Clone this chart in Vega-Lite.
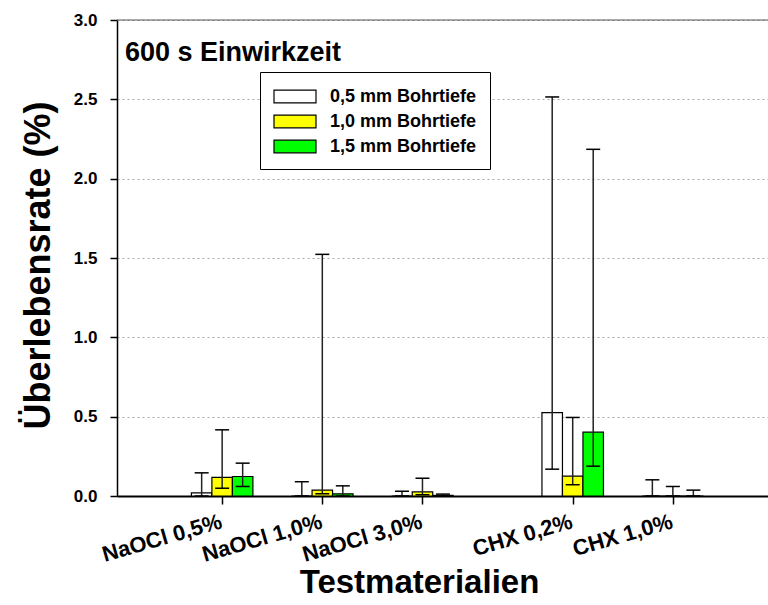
{
  "$schema": "https://vega.github.io/schema/vega-lite/v6.json",
  "autosize": "none",
  "width": 651,
  "height": 476,
  "padding": {"left": 117, "top": 20, "right": 0, "bottom": 109},
  "background": "white",
  "config": {
    "font": "Liberation Sans",
    "view": {"stroke": null},
    "axis": {"labelFont": "Liberation Sans", "titleFont": "Liberation Sans", "labelFontWeight": "bold", "titleFontWeight": "bold", "labelColor": "black", "titleColor": "black", "domainColor": "black", "tickColor": "black"},
    "legend": {"labelFont": "Liberation Sans", "labelFontWeight": "bold", "labelFontSize": 18, "labelColor": "black"}
  },
  "title": {"text": "600 s Einwirkzeit", "anchor": "start", "frame": "group", "offset": 0, "baseline": "alphabetic", "dx": 8, "dy": 77, "fontSize": 27, "fontWeight": "bold", "font": "Liberation Sans", "color": "black"},
  "data": {"values": [
    {"gruppe": "NaOCl 0,5%", "pos": 1, "tiefe": "0,5 mm Bohrtiefe", "wert": 0.02, "unten": 0, "oben": 0.146},
    {"gruppe": "NaOCl 0,5%", "pos": 1, "tiefe": "1,0 mm Bohrtiefe", "wert": 0.118, "unten": 0.049, "oben": 0.417},
    {"gruppe": "NaOCl 0,5%", "pos": 1, "tiefe": "1,5 mm Bohrtiefe", "wert": 0.123, "unten": 0.06, "oben": 0.207},
    {"gruppe": "NaOCl 1,0%", "pos": 2, "tiefe": "0,5 mm Bohrtiefe", "wert": 0, "unten": 0, "oben": 0.09},
    {"gruppe": "NaOCl 1,0%", "pos": 2, "tiefe": "1,0 mm Bohrtiefe", "wert": 0.037, "unten": 0.014, "oben": 1.523},
    {"gruppe": "NaOCl 1,0%", "pos": 2, "tiefe": "1,5 mm Bohrtiefe", "wert": 0.014, "unten": 0, "oben": 0.064},
    {"gruppe": "NaOCl 3,0%", "pos": 3, "tiefe": "0,5 mm Bohrtiefe", "wert": 0, "unten": 0, "oben": 0.03},
    {"gruppe": "NaOCl 3,0%", "pos": 3, "tiefe": "1,0 mm Bohrtiefe", "wert": 0.026, "unten": 0.008, "oben": 0.112},
    {"gruppe": "NaOCl 3,0%", "pos": 3, "tiefe": "1,5 mm Bohrtiefe", "wert": 0.004, "unten": 0, "oben": 0.012},
    {"gruppe": "CHX 0,2%", "pos": 4.5, "tiefe": "0,5 mm Bohrtiefe", "wert": 0.526, "unten": 0.169, "oben": 2.515},
    {"gruppe": "CHX 0,2%", "pos": 4.5, "tiefe": "1,0 mm Bohrtiefe", "wert": 0.125, "unten": 0.071, "oben": 0.495},
    {"gruppe": "CHX 0,2%", "pos": 4.5, "tiefe": "1,5 mm Bohrtiefe", "wert": 0.402, "unten": 0.188, "oben": 2.185},
    {"gruppe": "CHX 1,0%", "pos": 5.5, "tiefe": "0,5 mm Bohrtiefe", "wert": 0, "unten": 0, "oben": 0.102},
    {"gruppe": "CHX 1,0%", "pos": 5.5, "tiefe": "1,0 mm Bohrtiefe", "wert": 0, "unten": 0, "oben": 0.06},
    {"gruppe": "CHX 1,0%", "pos": 5.5, "tiefe": "1,5 mm Bohrtiefe", "wert": 0, "unten": 0, "oben": 0.037}
  ]},
  "encoding": {
    "x": {"field": "pos", "type": "quantitative",
      "scale": {"domain": [0, 6.4], "nice": false, "zero": false},
      "axis": {"title": "Testmaterialien", "titleFontSize": 33, "titleX": 302, "titleY": 96, "titleBaseline": "alphabetic", "titleAnchor": "middle", "titleAlign": "center",
        "values": [1, 2, 3, 4.5, 5.5],
        "labelExpr": "{'1': 'NaOCl 0,5%', '2': 'NaOCl 1,0%', '3': 'NaOCl 3,0%', '4.5': 'CHX 0,2%', '5.5': 'CHX 1,0%'}[datum.value]",
        "labelAngle": -16, "labelAlign": "right", "labelBaseline": "top", "labelFontSize": 22, "labelPadding": 7, "labelOffset": -4, "labelOverlap": false, "labelFlush": false, "labelBound": false,
        "grid": false, "tickSize": 8, "tickWidth": 1.5, "domainWidth": 1.8}}
  },
  "layer": [
    {"transform": [{"filter": "datum.tiefe == '0,5 mm Bohrtiefe'"}],
     "layer": [
       {"mark": {"type": "bar", "width": 20.5, "xOffset": -20.5, "stroke": "black", "strokeWidth": 1.2},
        "encoding": {
          "y": {"field": "wert", "type": "quantitative", "title": "Überlebensrate (%)", "scale": {"domain": [0, 3], "nice": false},
            "axis": {"values": [0, 0.5, 1, 1.5, 2, 2.5, 3], "format": ".1f", "labelFontSize": 17, "tickSize": 7, "tickWidth": 1.5, "labelPadding": 13, "domainWidth": 1.5, "grid": true, "gridDash": [2, 3], "gridColor": "#a8a8a8", "gridWidth": 1, "titleFontSize": 36, "titlePadding": 16, "titleY": 245}},
          "color": {"field": "tiefe", "type": "nominal",
            "scale": {"domain": ["0,5 mm Bohrtiefe", "1,0 mm Bohrtiefe", "1,5 mm Bohrtiefe"], "range": ["#ffffff", "#ffff00", "#00ff00"]},
            "legend": {"title": null, "orient": "none", "legendX": 143, "legendY": 52, "strokeColor": "black", "fillColor": "white", "padding": 13, "rowPadding": 4, "labelOffset": 34,
              "symbolType": "M-1,-0.6H3V0.6H-1Z", "symbolSize": 441, "symbolStrokeColor": "black", "symbolStrokeWidth": 1.2, "symbolOpacity": 1}}}},
       {"mark": {"type": "rule", "xOffset": -20.5, "color": "#222222", "strokeWidth": 1.5}, "encoding": {"y": {"field": "unten", "type": "quantitative", "title": "Überlebensrate (%)"}, "y2": {"field": "oben"}}},
       {"mark": {"type": "tick", "orient": "horizontal", "size": 14, "thickness": 1.5, "xOffset": -20.5, "color": "black", "opacity": 1}, "encoding": {"y": {"field": "oben", "type": "quantitative", "title": "Überlebensrate (%)"}}},
       {"mark": {"type": "tick", "orient": "horizontal", "size": 14, "thickness": 1.5, "xOffset": -20.5, "color": "black", "opacity": 1}, "encoding": {"y": {"field": "unten", "type": "quantitative", "title": "Überlebensrate (%)"}}}
     ]},
    {"transform": [{"filter": "datum.tiefe == '1,0 mm Bohrtiefe'"}],
     "layer": [
       {"mark": {"type": "bar", "width": 20.5, "xOffset": 0, "stroke": "black", "strokeWidth": 1.2}, "encoding": {"y": {"field": "wert", "type": "quantitative", "title": "Überlebensrate (%)"}, "color": {"field": "tiefe", "type": "nominal"}}},
       {"mark": {"type": "rule", "xOffset": 0, "color": "#222222", "strokeWidth": 1.5}, "encoding": {"y": {"field": "unten", "type": "quantitative", "title": "Überlebensrate (%)"}, "y2": {"field": "oben"}}},
       {"mark": {"type": "tick", "orient": "horizontal", "size": 14, "thickness": 1.5, "xOffset": 0, "color": "black", "opacity": 1}, "encoding": {"y": {"field": "oben", "type": "quantitative", "title": "Überlebensrate (%)"}}},
       {"mark": {"type": "tick", "orient": "horizontal", "size": 14, "thickness": 1.5, "xOffset": 0, "color": "black", "opacity": 1}, "encoding": {"y": {"field": "unten", "type": "quantitative", "title": "Überlebensrate (%)"}}}
     ]},
    {"transform": [{"filter": "datum.tiefe == '1,5 mm Bohrtiefe'"}],
     "layer": [
       {"mark": {"type": "bar", "width": 20.5, "xOffset": 20.5, "stroke": "black", "strokeWidth": 1.2}, "encoding": {"y": {"field": "wert", "type": "quantitative", "title": "Überlebensrate (%)"}, "color": {"field": "tiefe", "type": "nominal"}}},
       {"mark": {"type": "rule", "xOffset": 20.5, "color": "#222222", "strokeWidth": 1.5}, "encoding": {"y": {"field": "unten", "type": "quantitative", "title": "Überlebensrate (%)"}, "y2": {"field": "oben"}}},
       {"mark": {"type": "tick", "orient": "horizontal", "size": 14, "thickness": 1.5, "xOffset": 20.5, "color": "black", "opacity": 1}, "encoding": {"y": {"field": "oben", "type": "quantitative", "title": "Überlebensrate (%)"}}},
       {"mark": {"type": "tick", "orient": "horizontal", "size": 14, "thickness": 1.5, "xOffset": 20.5, "color": "black", "opacity": 1}, "encoding": {"y": {"field": "unten", "type": "quantitative", "title": "Überlebensrate (%)"}}}
     ]},
    {"data": {"values": [{"oben_rand": 3}]},
     "mark": {"type": "rule", "color": "#555555", "strokeWidth": 1.2},
     "encoding": {"x": null, "y": {"field": "oben_rand", "type": "quantitative", "title": "Überlebensrate (%)"}}}
  ]
}
